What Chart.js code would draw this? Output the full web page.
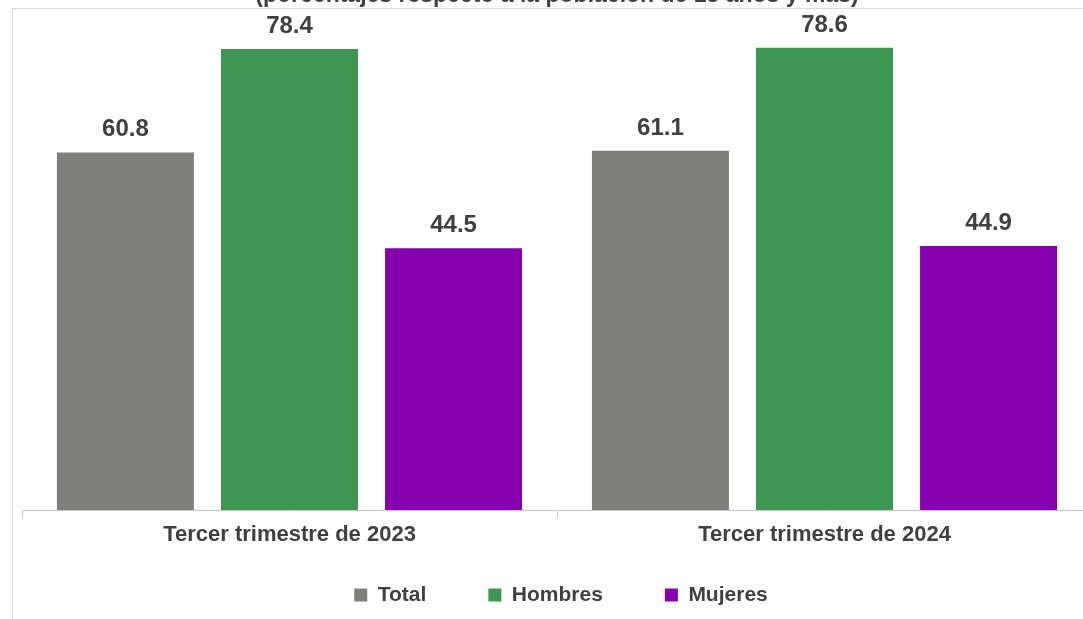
<!DOCTYPE html>
<html>
<head>
<meta charset="utf-8">
<script src="https://cdn.jsdelivr.net/npm/chart.js@4/dist/chart.umd.min.js"></script>
<style>
  html, body { margin: 0; padding: 0; background: #ffffff; overflow: hidden; width: 1083px; height: 619px; }
  #frame { position: absolute; left: 12px; top: 8px; width: 1200px; height: 700px; border: 1px solid #d9d9d9; box-sizing: border-box; }
  #wrap { position: absolute; left: 0; top: -20px; width: 1110px; height: 663px; }
</style>
</head>
<body>
<div id="frame"></div>
<div id="wrap"><canvas id="c" width="1110" height="663"></canvas></div>
<script>
const titleText = '(porcentajes respecto a la población de 15 años y más)';
const categories = ['Tercer trimestre de 2023', 'Tercer trimestre de 2024'];
const seriesNames = ['Total', 'Hombres', 'Mujeres'];
const totalValues = [60.8, 61.1];
const hombresValues = [78.4, 78.6];
const mujeresValues = [44.5, 44.9];
const seriesColors = ['#7f7f7b', '#3e9653', '#8600b0'];

const textColor = '#404040';
const fontFamily = '"Liberation Sans", Arial, sans-serif';
const legendFontSize = 21;
const legendPadding = 62;

const valueLabels = {
  id: 'valueLabels',
  afterDatasetsDraw(chart) {
    const ctx = chart.ctx;
    ctx.save();
    ctx.font = 'bold 24px ' + fontFamily;
    ctx.fillStyle = textColor;
    ctx.textAlign = 'center';
    ctx.textBaseline = 'alphabetic';
    chart.data.datasets.forEach((ds, i) => {
      const meta = chart.getDatasetMeta(i);
      meta.data.forEach((el, j) => {
        ctx.fillText(ds.data[j].toFixed(1), el.x, el.y - 16);
      });
    });
    ctx.restore();
  }
};

// move the legend row closer to the axis (keeps wide horizontal spacing between items)
const legendPlace = {
  id: 'legendPlace',
  afterLayout(chart) {
    const lg = chart.legend;
    if (!lg) return;
    const natural = lg.top + legendPadding + legendFontSize / 2;
    const target = chart.chartArea.bottom + 85;
    const shift = natural - target;
    lg.top -= shift;
    lg.bottom -= shift;
    lg.left += 4;
    lg.right += 4;
  }
};

new Chart(document.getElementById('c'), {
  type: 'bar',
  data: {
    labels: categories,
    datasets: [
      { label: seriesNames[0], data: totalValues, backgroundColor: seriesColors[0] },
      { label: seriesNames[1], data: hombresValues, backgroundColor: seriesColors[1] },
      { label: seriesNames[2], data: mujeresValues, backgroundColor: seriesColors[2] }
    ]
  },
  options: {
    responsive: false,
    animation: false,
    layout: { padding: { left: 22, right: 18, top: 0, bottom: 0 } },
    datasets: { bar: { categoryPercentage: 0.92, barPercentage: 0.835 } },
    scales: {
      x: {
        offset: true,
        grid: { display: true, offset: true, drawOnChartArea: false, drawTicks: true, tickLength: 8, color: '#c8c8c8', lineWidth: 1 },
        border: { display: true, color: '#c8c8c8', width: 1 },
        ticks: { color: textColor, font: { family: fontFamily, size: 22, weight: 'bold' }, padding: 4, maxRotation: 0 },
        afterFit(scale) { scale.height = 40; }
      },
      y: { display: false, min: 0, max: 80 }
    },
    plugins: {
      title: {
        display: true,
        text: titleText,
        color: textColor,
        font: { family: fontFamily, size: 23, weight: 'bold' },
        padding: { top: 2, bottom: 30 }
      },
      legend: {
        position: 'bottom',
        labels: {
          color: textColor,
          font: { family: fontFamily, size: legendFontSize, weight: 'bold' },
          boxWidth: 13,
          boxHeight: 13,
          padding: legendPadding
        }
      },
      tooltip: { enabled: false }
    }
  },
  plugins: [valueLabels, legendPlace]
});
</script>
</body>
</html>
